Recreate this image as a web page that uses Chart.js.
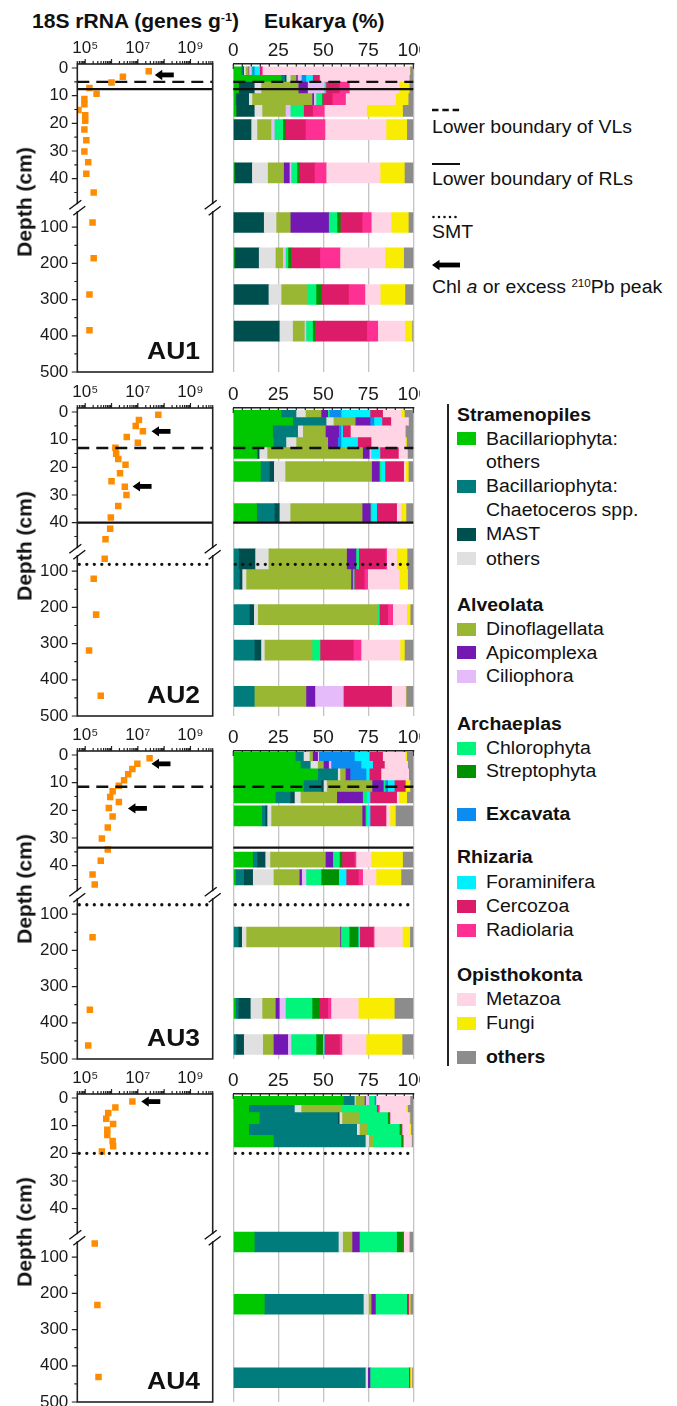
<!DOCTYPE html>
<html><head><meta charset="utf-8"><title>18S rRNA and Eukarya composition</title>
<script src="https://cdn.jsdelivr.net/npm/chart.js@4.4.1/dist/chart.umd.min.js"></script>
<style>
html,body{margin:0;padding:0;background:#fff;}
#page{position:relative;width:677px;height:1406px;overflow:hidden;font-family:"Liberation Sans",Arial,Helvetica,sans-serif;color:#111;}
#page canvas{position:absolute;}
.t{position:absolute;white-space:nowrap;line-height:1;transform-origin:left top;transform:scaleX(1.08);}
.t sup{font-size:0.6em;position:relative;top:-0.55em;vertical-align:baseline;line-height:0;}
.sw{position:absolute;width:18.7px;height:13px;}
</style></head><body><div id="page"></div>
<script>
// ---------------- data ----------------
const sites = ['AU1', 'AU2', 'AU3', 'AU4'];

const taxaNames = ['Bacillariophyta: others', 'Bacillariophyta: Chaetoceros spp.', 'MAST', 'Stramenopiles: others',
  'Dinoflagellata', 'Apicomplexa', 'Ciliophora', 'Chlorophyta', 'Streptophyta', 'Excavata',
  'Foraminifera', 'Cercozoa', 'Radiolaria', 'Metazoa', 'Fungi', 'others'];
const taxaColors = ['#00C800', '#007C7C', '#004F4F', '#E0E0E0', '#9AB734', '#7418B4', '#E6BBFA', '#00F57A',
  '#009100', '#0A8CF0', '#00F0FF', '#DC1C68', '#FF3093', '#FFD5E5', '#F8EC00', '#8C8C8C'];

// 18S rRNA gene copies (genes g-1) vs depth (cm)
const au1Depth = [1.2, 3.2, 5.2, 7.2, 9.3, 11.2, 13.1, 15.2, 17.1, 19.1, 22.2, 26.1, 30.2, 34.1, 38.2, 45, 87, 186, 286, 385];
const au1Genes = [2.6e7, 2.7e6, 1.0e6, 1.45e5, 2.7e5, 9.3e4, 9.3e4, 5.5e4, 1.0e5, 1.0e5, 9.3e4, 1.1e5, 9.3e4, 1.3e5, 1.1e5, 2.1e5, 1.9e5, 2.1e5, 1.45e5, 1.45e5];
const au2Depth = [1, 2.9, 5.1, 7, 9, 11.1, 12.9, 15.1, 17, 19.1, 22.1, 25, 27, 30, 34, 38.1, 42.2, 46, 66, 121, 220, 319, 444];
const au2Genes = [6.0e7, 1.1e7, 8.3e6, 1.55e7, 3.8e6, 1.0e7, 1.4e6, 1.5e6, 1.8e6, 3.4e6, 2.1e6, 1.0e6, 3.2e6, 3.7e6, 1.8e6, 9.4e5, 8.9e5, 5.9e5, 5.5e5, 2.1e5, 2.6e5, 1.4e5, 3.9e5];
const au3Depth = [1.2, 3.2, 5.1, 7, 9.1, 11.1, 13.1, 15.2, 17, 19.2, 22.2, 26.2, 30.2, 34.2, 38.2, 43.2, 46.8, 164, 364, 463];
const au3Genes = [2.8e7, 9.6e6, 6.2e6, 4.3e6, 3.0e6, 1.9e6, 1.1e6, 8.9e5, 1.9e6, 7.9e5, 1.1e6, 7.2e5, 4.3e5, 7.2e5, 3.9e5, 1.9e5, 2.3e5, 1.9e5, 1.5e5, 1.3e5];
const au4Depth = [1.3, 3.4, 5.4, 7.5, 9.4, 11.5, 13.4, 15.5, 17.4, 19.3, 62, 232, 431];
const au4Genes = [6.2e6, 1.4e6, 7.5e5, 6.3e5, 1.15e6, 6.9e5, 6.9e5, 1.1e6, 1.15e6, 4.3e5, 2.3e5, 2.9e5, 3.2e5];

// Eukarya composition (%) per sequenced sample, taxa in the order of taxaNames
const au1RowDepth = [1.0, 3.6, 6.9, 11.1, 15.4, 22.3, 37.9, 87, 185, 286, 387];
const au1Rows = [
  [4.8, 0.8, 0.5, 1.0, 1.6, 0.3, 1.3, 0.5, 0, 1.2, 3.0, 1.0, 0.5, 81.8, 0.2, 1.5],
  [26.9, 2.0, 0.8, 2.3, 3.2, 0.8, 2.0, 0.3, 0, 2.4, 3.7, 3.5, 0.5, 49.5, 0.3, 1.8],
  [3.3, 0, 8.7, 3.7, 20.7, 5.2, 9.3, 0.9, 0, 0, 0, 7.4, 5.6, 27.7, 5.6, 1.9],
  [1.5, 0.4, 7.0, 1.8, 33.4, 0.9, 1.3, 3.3, 0.3, 0, 0, 5.4, 7.4, 27.8, 7.0, 2.6],
  [1.9, 0, 10.1, 4.3, 13.0, 0, 2.7, 7.4, 0, 0, 0, 5.0, 6.5, 23.5, 20.0, 5.6],
  [0.4, 0, 9.8, 3.3, 7.8, 0, 1.8, 4.7, 1.5, 0, 0, 11.1, 10.9, 33.9, 11.5, 3.3],
  [0.9, 0, 9.7, 8.8, 8.9, 3.2, 0.9, 3.3, 1.3, 0, 0, 8.4, 6.5, 30.0, 13.5, 4.6],
  [0.3, 0, 16.9, 6.9, 7.9, 21.3, 0, 4.6, 1.9, 0, 0, 12.1, 5.1, 11.0, 9.6, 2.4],
  [0.9, 0, 13.5, 9.3, 4.1, 0, 1.5, 1.4, 1.5, 0, 0, 16.3, 11.1, 25.0, 10.4, 5.0],
  [0, 0, 19.8, 7.1, 14.2, 0, 0, 5.2, 3.1, 0, 0, 14.9, 9.2, 8.5, 13.7, 4.3],
  [0, 0, 25.9, 7.4, 6.5, 0, 0.9, 3.7, 1.3, 0, 0, 28.9, 6.0, 15.1, 3.9, 0.4]
];
const au2RowDepth = [0.6, 3.3, 6.9, 10.8, 14.7, 21.5, 36.5, 66, 122, 220, 318, 446];
const au2Rows = [
  [26.9, 8.3, 0, 5.2, 8.7, 3.7, 0, 0.9, 0, 6.5, 16.1, 7.0, 0, 10.2, 1.9, 4.6],
  [33.3, 18.6, 0, 4.0, 12.2, 8.2, 0, 0, 0, 2.2, 4.4, 5.0, 0, 9.8, 0, 2.3],
  [22.2, 13.9, 0, 2.8, 12.6, 7.4, 0, 0, 0, 1.3, 0.9, 4.3, 0, 30.5, 0, 4.1],
  [22.6, 7.0, 0, 5.6, 17.6, 5.5, 0, 0, 0, 1.9, 9.2, 7.5, 0, 19.0, 0.7, 3.4],
  [13.3, 0.6, 0.8, 4.4, 53.1, 3.7, 0.9, 0, 0, 0, 5.0, 10.3, 0, 5.0, 0, 2.9],
  [15.4, 5.0, 2.4, 6.3, 48.1, 4.3, 0, 0.9, 0, 0, 2.2, 10.4, 0, 1.1, 1.5, 2.4],
  [13.3, 9.8, 2.8, 6.0, 40.0, 4.6, 0, 0.9, 0, 0, 2.6, 11.1, 0, 2.4, 2.8, 3.7],
  [0, 3.3, 9.1, 7.4, 43.5, 5.2, 0, 1.5, 0, 0, 0, 14.8, 0.8, 5.5, 5.8, 3.1],
  [0, 3.7, 1.5, 2.2, 58.3, 0.9, 0, 0.9, 0, 0, 0, 5.6, 1.9, 17.6, 4.6, 2.8],
  [0, 9.3, 2.4, 2.2, 66.7, 0, 0, 0.9, 0, 0, 0, 4.6, 2.8, 7.8, 1.9, 1.4],
  [0, 12.0, 3.7, 1.9, 26.5, 0, 0, 4.4, 0, 0, 0, 18.5, 4.3, 21.7, 2.4, 4.6],
  [0, 12.0, 0, 0, 28.7, 5.0, 15.8, 0, 0, 0, 0, 26.8, 0, 7.6, 0.4, 3.7]
];
const au3RowDepth = [0.54, 3.4, 6.9, 11.1, 15.2, 22.0, 37.8, 44.2, 163, 360, 460];
const au3Rows = [
  [34.8, 4.5, 0, 3.3, 1.8, 2.8, 0.6, 0, 0, 19.8, 8.3, 7.4, 0, 12.5, 0.9, 3.3],
  [37.6, 5.5, 0, 4.1, 3.2, 2.9, 1.3, 0, 0, 16.7, 6.5, 6.5, 0, 12.9, 0, 2.8],
  [47.2, 11.1, 0, 1.3, 3.0, 2.6, 0, 0, 0, 8.9, 1.8, 6.5, 0, 15.4, 0, 2.2],
  [39.3, 9.8, 1.3, 1.8, 25.2, 6.3, 0, 1.1, 0, 1.3, 3.7, 6.1, 0, 0, 2.6, 1.5],
  [23.7, 8.2, 2.4, 3.3, 20.2, 14.4, 0, 2.4, 0, 0, 1.7, 14.8, 0, 1.1, 4.5, 3.3],
  [16.1, 1.9, 1.1, 2.2, 50.6, 1.8, 0, 0.9, 0, 0, 1.7, 8.9, 0, 2.2, 3.0, 9.6],
  [11.1, 2.4, 4.5, 2.7, 30.8, 4.1, 0, 3.7, 1.4, 0, 0, 6.9, 0.9, 8.4, 17.5, 5.6],
  [1.5, 4.6, 5.0, 11.5, 14.4, 1.3, 2.4, 8.4, 9.8, 0, 4.1, 6.8, 2.4, 7.4, 13.9, 6.5],
  [0.6, 2.5, 1.9, 2.4, 52.2, 0.5, 0, 4.6, 5.0, 0, 0.9, 7.4, 0.6, 15.7, 4.1, 1.5],
  [1.5, 1.6, 6.7, 6.5, 7.4, 2.2, 3.4, 14.8, 4.0, 0, 0, 4.7, 1.8, 15.2, 20.0, 10.2],
  [0, 1.9, 4.2, 10.6, 5.9, 8.0, 1.8, 13.9, 3.7, 0, 0.9, 8.4, 1.4, 13.4, 20.0, 5.9]
];
const au4RowDepth = [0.9, 3.7, 7.2, 11.3, 15.5, 58, 230, 433];
const au4Rows = [
  [61.5, 6.1, 0, 0.6, 5.0, 0.6, 1.8, 3.1, 0, 0.9, 0, 0, 0, 18.9, 0, 1.5],
  [8.9, 25.4, 0, 3.7, 22.2, 0, 0, 19.8, 0, 0, 0, 0.8, 0.7, 14.8, 0.9, 2.8],
  [14.8, 43.5, 0.9, 1.5, 9.3, 0, 0, 16.1, 0.9, 0, 0, 0.4, 0, 10.4, 0.7, 1.5],
  [8.9, 60.0, 0, 1.5, 4.6, 0, 0, 17.6, 0.9, 0, 0, 0.6, 0, 4.4, 0.5, 1.0],
  [22.6, 51.1, 0, 1.9, 2.5, 0, 0, 15.4, 0.9, 0, 0, 0.4, 0, 4.2, 0.5, 0.5],
  [12.0, 46.7, 0, 2.4, 5.2, 4.1, 0, 20.7, 3.3, 0, 0, 0.6, 0, 2.8, 0.4, 1.8],
  [17.6, 55.0, 0, 2.8, 1.5, 2.4, 0, 17.4, 0.6, 0, 0, 0.6, 0, 0, 0.7, 1.4],
  [0.4, 73.3, 0, 1.3, 0, 1.3, 0, 21.5, 0, 0, 0, 0.7, 0, 0, 1.1, 0.4]
];

// horizons (cm): lower boundary of VLs, lower boundary of RLs, SMT
const vlDepth = [5, 13, 11.5, null];
const rlDepth = [7.6, 40, 33.5, null];
const smtDepth = [null, 81, 74, 20];
// Chl a / excess 210Pb peaks: depth and arrow-head position on the gene axis
const peakDepth = [[2.5], [7.0, 26.9], [3.2, 19.3], [1.3]];
const peakGenes = [[4.4e7], [3.3e7, 6.3e6], [3.3e7, 4.2e6], [1.35e7]];

// axis ticks
const depthMajor = [0, 10, 20, 30, 40, 100, 200, 300, 400, 500];
const depthMinor = [5, 15, 25, 35, 45, 150, 250, 350, 450];
const logLabels = {100000: '10\u2075', 10000000: '10\u2077', 1000000000: '10\u2079'};
const pctLabels = [0, 25, 50, 75, 100];

// ---------------- styling / layout ----------------
const depthData = [au1Depth, au2Depth, au3Depth, au4Depth];
const geneData = [au1Genes, au2Genes, au3Genes, au4Genes];
const rowDepthData = [au1RowDepth, au2RowDepth, au3RowDepth, au4RowDepth];
const rowData = [au1Rows, au2Rows, au3Rows, au4Rows];
const ROW_PX = [
  [7.7, 6.7, 11.6, 11.7, 11.7, 20, 20, 20, 20, 20, 20],
  [6.7, 8.3, 11.7, 10, 11.6, 20, 19, 20, 20, 20, 20, 20],
  [8.4, 7.6, 11.7, 11.3, 11.7, 20, 15, 15.3, 20, 20, 20],
  [8.4, 7.3, 11.7, 11, 12.3, 20, 20, 20]
];
const SITE_TOP = [64, 408, 751, 1094];
const AXIS_H = 44, AREA_H = 308, BOT_PAD = 16;
const K_LOWER = 0.1309;           // vertical compression below the axis break
function tf(d) { return d <= 50 ? d : 51 + (d - 50) * K_LOWER; }
const Y_MIN = -1.45, Y_MAX = tf(500);
const FONT = '"Liberation Sans", Arial, Helvetica, sans-serif';
Chart.defaults.font.family = FONT;
Chart.defaults.color = '#1a1a1a';

const logTicks = [];
for (let e = 4; e <= 9; e++) for (let m = 1; m <= 9; m++) {
  const v = m * Math.pow(10, e);
  if (v >= 5e4 && v <= 7e9) logTicks.push(v);
}
const pctTicks = [];
for (let v = 0; v <= 100; v += 5) pctTicks.push(v);

const page = document.getElementById('page');
function mkCanvas(left, top, w, h) {
  const c = document.createElement('canvas');
  c.width = w; c.height = h;
  c.style.left = left + 'px'; c.style.top = top + 'px';
  c.style.width = w + 'px'; c.style.height = h + 'px';
  page.appendChild(c); return c;
}
function txt(html, x, baseline, size, bold) {
  const d = document.createElement('div'); d.className = 't';
  d.innerHTML = html; d.style.fontSize = size + 'px';
  if (bold) d.style.fontWeight = 'bold';
  d.style.left = x + 'px'; d.style.top = (baseline - 0.8465 * size) + 'px';
  page.appendChild(d); return d;
}

function drawHorizons(ctx, a, y, i) {
  const list = [[vlDepth[i], 'dash'], [rlDepth[i], 'solid'], [smtDepth[i], 'dot']];
  list.forEach(([d, kind]) => {
    if (d == null) return;
    const py = y.getPixelForValue(tf(d));
    ctx.save(); ctx.strokeStyle = '#111';
    if (kind === 'dash') { ctx.lineWidth = 2.4; ctx.setLineDash([12, 7]); }
    else if (kind === 'solid') { ctx.lineWidth = 2.2; }
    else { ctx.lineWidth = 3.3; ctx.lineCap = 'round'; ctx.setLineDash([0, 7.5]); }
    ctx.beginPath(); ctx.moveTo(a.left + (kind === 'dot' ? 2 : 0), py); ctx.lineTo(a.right, py); ctx.stroke();
    ctx.restore();
  });
}

function makeScatter(i) {
  const T = SITE_TOP[i];
  const canvas = mkCanvas(0, T - AXIS_H, 222, AXIS_H + AREA_H + BOT_PAD);
  const pts = depthData[i].map((d, k) => ({x: geneData[i][k], y: tf(d)}));
  const deco = {
    id: 'deco' + i,
    afterDatasetsDraw(chart) {
      const {ctx, chartArea: a, scales: {x, y}} = chart;
      drawHorizons(ctx, a, y, i);
      // peak arrows
      ctx.save(); ctx.fillStyle = '#000';
      peakDepth[i].forEach((d, j) => {
        const px = x.getPixelForValue(peakGenes[i][j]);
        const py = y.getPixelForValue(tf(d));
        ctx.beginPath(); ctx.moveTo(px, py); ctx.lineTo(px + 7.5, py - 5.2); ctx.lineTo(px + 7.5, py + 5.2); ctx.closePath(); ctx.fill();
        ctx.fillRect(px + 7, py - 2.4, 12, 4.8);
      });
      ctx.restore();
    },
    afterDraw(chart) {
      const {ctx, chartArea: a, scales: {x, y}} = chart;
      ctx.save();
      ctx.strokeStyle = '#222'; ctx.lineWidth = 1.6;
      ctx.strokeRect(a.left, a.top, a.right - a.left, a.bottom - a.top);
      ctx.lineWidth = 1.2; ctx.beginPath();
      logTicks.forEach(v => {
        const px = x.getPixelForValue(v);
        const len = Math.abs(Math.log10(v) - Math.round(Math.log10(v))) < 1e-9 ? 5 : 3;
        ctx.moveTo(px, a.top); ctx.lineTo(px, a.top - len);
      });
      depthMajor.forEach(d => { const py = y.getPixelForValue(tf(d)); ctx.moveTo(a.left, py); ctx.lineTo(a.left - 5.5, py); });
      depthMinor.forEach(d => { const py = y.getPixelForValue(tf(d)); ctx.moveTo(a.left, py); ctx.lineTo(a.left - 3, py); });
      ctx.stroke();
      // axis break marks
      const yb = y.getPixelForValue(50.5);
      [a.left, a.right].forEach(xb => {
        ctx.fillStyle = '#fff'; ctx.fillRect(xb - 2, yb - 3.5, 4, 7);
        ctx.strokeStyle = '#111'; ctx.lineWidth = 1.4; ctx.beginPath();
        ctx.moveTo(xb - 8, yb + 1.5); ctx.lineTo(xb + 4, yb - 7.5);
        ctx.moveTo(xb - 4, yb + 7.5); ctx.lineTo(xb + 8, yb - 1.5);
        ctx.stroke();
      });
      ctx.restore();
    }
  };
  new Chart(canvas, {
    type: 'scatter',
    data: {datasets: [{data: pts, pointStyle: 'rect', pointRadius: 4.6, pointHoverRadius: 4.6,
      backgroundColor: '#FF8C00', borderWidth: 0}]},
    options: {
      responsive: false, animation: false, events: [], devicePixelRatio: 1,
      layout: {padding: {left: 0, right: 9.3, top: 0, bottom: BOT_PAD}},
      plugins: {legend: {display: false}, tooltip: {enabled: false}},
      scales: {
        x: {type: 'logarithmic', position: 'top', min: 5e4, max: 7e9,
          afterBuildTicks: s => { s.ticks = logTicks.map(v => ({value: v})); },
          afterFit: s => { s.height = AXIS_H; s.paddingLeft = 0; s.paddingRight = 0; },
          ticks: {autoSkip: false, maxRotation: 0, minRotation: 0, padding: 5,
            font: {size: 17}, color: '#1a1a1a', callback: v => logLabels[v] || ''},
          grid: {display: false, drawTicks: false}, border: {display: false}},
        y: {type: 'linear', reverse: true, min: Y_MIN, max: Y_MAX,
          afterBuildTicks: s => { s.ticks = depthMajor.map(d => ({value: tf(d)})); },
          afterFit: s => { s.width = 77.3; s.paddingTop = 0; s.paddingBottom = 0; },
          ticks: {autoSkip: false, padding: 9, font: {size: 17}, color: '#1a1a1a',
            callback: v => { const d = depthMajor.find(m => Math.abs(tf(m) - v) < 1e-6); return d === undefined ? '' : String(d); }},
          grid: {display: false, drawTicks: false}, border: {display: false}}
      }
    },
    plugins: [deco]
  });
}

function makeBars(i) {
  const T = SITE_TOP[i];
  const canvas = mkCanvas(222, T - AXIS_H, 198, AXIS_H + AREA_H + BOT_PAD);
  const datasets = rowData[i].map((comp, r) => {
    let cum = 0; const data = [], colors = [];
    comp.forEach((p, k) => {
      if (p > 0) { data.push({x: [cum, cum + p], y: tf(rowDepthData[i][r])}); colors.push(taxaColors[k]); }
      cum += p;
    });
    return {label: sites[i] + ' ' + rowDepthData[i][r] + ' cm', data, backgroundColor: colors,
      barThickness: ROW_PX[i][r], grouped: false, borderWidth: 0, borderSkipped: false};
  });
  const deco = {
    id: 'bdeco' + i,
    beforeDatasetsDraw(chart) {
      const {ctx, chartArea: a, scales: {x}} = chart;
      ctx.save(); ctx.strokeStyle = '#222'; ctx.lineWidth = 1.2; ctx.beginPath();
      pctTicks.forEach(v => { const px = x.getPixelForValue(v); const len = v % 25 === 0 ? 5 : 3;
        ctx.moveTo(px, a.top); ctx.lineTo(px, a.top + len); });
      ctx.stroke(); ctx.restore();
    },
    afterDatasetsDraw(chart) {
      const {ctx, chartArea: a, scales: {y}} = chart;
      drawHorizons(ctx, a, y, i);
    }
  };
  new Chart(canvas, {
    type: 'bar',
    data: {datasets},
    options: {
      indexAxis: 'y', responsive: false, animation: false, events: [], devicePixelRatio: 1,
      layout: {padding: {left: 11.3, right: 6.7, top: 0, bottom: BOT_PAD}},
      plugins: {legend: {display: false}, tooltip: {enabled: false}},
      scales: {
        x: {type: 'linear', position: 'top', min: 0, max: 100,
          afterBuildTicks: s => { s.ticks = pctTicks.map(v => ({value: v})); },
          afterFit: s => { s.height = AXIS_H; s.paddingLeft = 0; s.paddingRight = 0; },
          ticks: {autoSkip: false, maxRotation: 0, minRotation: 0, padding: 2, font: {size: 19}, color: '#1a1a1a',
            callback: v => pctLabels.includes(v) ? String(v) : ''},
          grid: {display: true, drawOnChartArea: true, drawTicks: false, lineWidth: 1.3,
            color: c => (c.tick && c.tick.value % 25 === 0) ? '#c4c4c4' : 'rgba(0,0,0,0)'},
          border: {display: true, color: '#222', width: 1.6}},
        y: {type: 'linear', reverse: true, min: Y_MIN, max: Y_MAX, offset: false, display: false}
      }
    },
    plugins: [deco]
  });
}

// ---------------- build ----------------
txt('18S rRNA (genes g<sup>-1</sup>)', 31.7, 28.3, 19.5, true);
txt('Eukarya (%)', 264.3, 28.3, 19.5, true);

for (let i = 0; i < 4; i++) {
  makeScatter(i);
  makeBars(i);
  const T = SITE_TOP[i];
  const dl = document.createElement('div'); dl.className = 't';
  dl.textContent = 'Depth (cm)'; dl.style.fontSize = '21px'; dl.style.fontWeight = 'bold';
  dl.style.left = '24px'; dl.style.top = (T + 137.5) + 'px';
  dl.style.transformOrigin = 'center center';
  dl.style.transform = 'translate(-50%,-50%) rotate(-90deg)';
  page.appendChild(dl);
  const au = document.createElement('div'); au.className = 't';
  au.textContent = sites[i]; au.style.fontSize = '24.5px'; au.style.fontWeight = 'bold';
  au.style.left = 'auto'; au.style.right = (677 - 200) + 'px';
  au.style.top = (T + 296 - 0.8465 * 24.5) + 'px';
  au.style.transformOrigin = 'right top';
  page.appendChild(au);
}

// line-style legend
function svgBox(x, y, w, h, inner) {
  const d = document.createElement('div'); d.style.position = 'absolute';
  d.style.left = x + 'px'; d.style.top = y + 'px';
  d.innerHTML = '<svg width="' + w + '" height="' + h + '" xmlns="http://www.w3.org/2000/svg">' + inner + '</svg>';
  page.appendChild(d);
}
svgBox(432, 101, 30, 10, '<line x1="0" y1="5" x2="28" y2="5" stroke="#111" stroke-width="2.4" stroke-dasharray="6.5 3.8"/>');
txt('Lower boundary of VLs', 432, 133.3, 18, false);
svgBox(432, 155, 30, 10, '<line x1="0" y1="5" x2="28" y2="5" stroke="#111" stroke-width="2"/>');
txt('Lower boundary of RLs', 432, 185, 18, false);
svgBox(432, 207.5, 32, 10, '<line x1="1.5" y1="5" x2="29" y2="5" stroke="#111" stroke-width="2.6" stroke-linecap="round" stroke-dasharray="0 5.5"/>');
txt('SMT', 432, 238.3, 18, false);
svgBox(432, 258, 30, 14, '<polygon points="0,7 7.5,1.8 7.5,12.2" fill="#000"/><rect x="7" y="4.6" width="21" height="4.8" fill="#000"/>');
txt('Chl <i>a</i> or excess <sup>210</sup>Pb peak', 432, 293.3, 18, false);

// taxa legend
const vline = document.createElement('div');
vline.style.cssText = 'position:absolute;left:447.3px;top:404px;width:2px;height:662px;background:#222;';
page.appendChild(vline);
const legendItems = [
  {h: 'Stramenopiles', y: 415},
  {c: 0, t: 'Bacillariophyta:', y: 438.5}, {t: 'others', y: 462},
  {c: 1, t: 'Bacillariophyta:', y: 486}, {t: 'Chaetoceros spp.', y: 510},
  {c: 2, t: 'MAST', y: 534}, {c: 3, t: 'others', y: 558.5},
  {h: 'Alveolata', y: 605},
  {c: 4, t: 'Dinoflagellata', y: 629}, {c: 5, t: 'Apicomplexa', y: 652.5}, {c: 6, t: 'Ciliophora', y: 676},
  {h: 'Archaeplas', y: 724},
  {c: 7, t: 'Chlorophyta', y: 748}, {c: 8, t: 'Streptophyta', y: 771},
  {c: 9, t: 'Excavata', y: 814, b: true},
  {h: 'Rhizaria', y: 857},
  {c: 10, t: 'Foraminifera', y: 882}, {c: 11, t: 'Cercozoa', y: 906}, {c: 12, t: 'Radiolaria', y: 930},
  {h: 'Opisthokonta', y: 975},
  {c: 13, t: 'Metazoa', y: 999}, {c: 14, t: 'Fungi', y: 1023},
  {c: 15, t: 'others', y: 1057, b: true}
];
legendItems.forEach(it => {
  if (it.h) { txt(it.h, 457.3, it.y + 6.5, 18, true); return; }
  if (it.c !== undefined) {
    const s = document.createElement('div'); s.className = 'sw';
    s.style.left = '457.3px'; s.style.top = (it.y - 6.5) + 'px'; s.style.background = taxaColors[it.c];
    page.appendChild(s);
  }
  txt(it.t, 486, it.y + 6.5, 18, !!it.b);
});
</script></body></html>
